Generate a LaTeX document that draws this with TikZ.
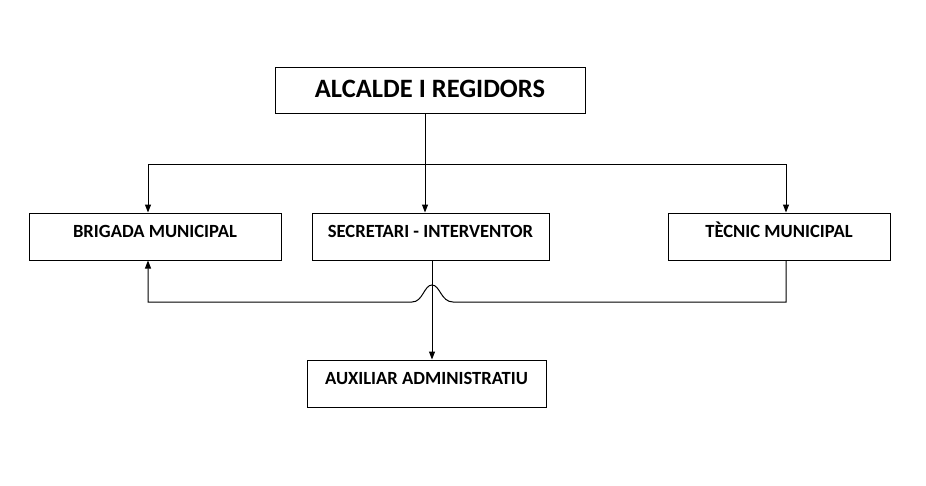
\documentclass[tikz,border=0pt]{standalone}
\usepackage{fontspec}
\setmainfont{Carlito}
\usepackage{tikz}
\usetikzlibrary{arrows.meta,positioning,calc}

\tikzset{
  orgbox/.style={draw, line width=1pt, inner sep=0pt, text height=24pt, text depth=23pt,
    font=\bfseries\fontsize{18.6}{20}\selectfont},
  topbox/.style={orgbox, text height=30pt, text depth=16pt,
    font=\bfseries\fontsize{26.5}{28}\selectfont}
}

\begin{document}
\begin{tikzpicture}[x=1pt,y=-1pt,line width=1pt,>={Triangle[length=8pt,width=6pt]}]
      \useasboundingbox (0,0) rectangle (926,485);
      \node[topbox, minimum width=310pt] (alcalde) at (430,90) {ALCALDE I REGIDORS};
      \node[orgbox, minimum width=252pt] (brigada) at (155,236.5) {BRIGADA MUNICIPAL};
      \node[orgbox, minimum width=237pt] (secretari) at (430.5,236.5) {SECRETARI - INTERVENTOR};
      \node[orgbox, minimum width=222pt] (tecnic) at (779,236.5) {TÈCNIC MUNICIPAL};
      \node[orgbox, minimum width=239pt] (auxiliar) at (426.5,383.5) {AUXILIAR ADMINISTRATIU};

      \coordinate (split) at (425,164);
      \coordinate (bl) at (148,164);
      \coordinate (tr) at (786,164);
      \coordinate (sa) at (432,0);
      \coordinate (hop) at (432,302);

      \draw (alcalde.south -| split) -- (split);
      \draw[->] (split) -- (secretari.north -| split);
      \draw[->] (split) -- (bl) -- (brigada.north -| bl);
      \draw[->] (split) -- (tr) -- (tecnic.north -| tr);

      \draw[->] (tecnic.south -| tr) |- ($(hop)+(21,0)$)
        .. controls ($(hop)+(9,0)$) and ($(hop)+(8,-17)$) .. ($(hop)+(0,-17)$)
        .. controls ($(hop)+(-8,-17)$) and ($(hop)+(-9,0)$) .. ($(hop)+(-20,0)$)
        -| (brigada.south -| bl);
      \draw[->] (secretari.south -| sa) -- (auxiliar.north -| sa);
\end{tikzpicture}
\end{document}
